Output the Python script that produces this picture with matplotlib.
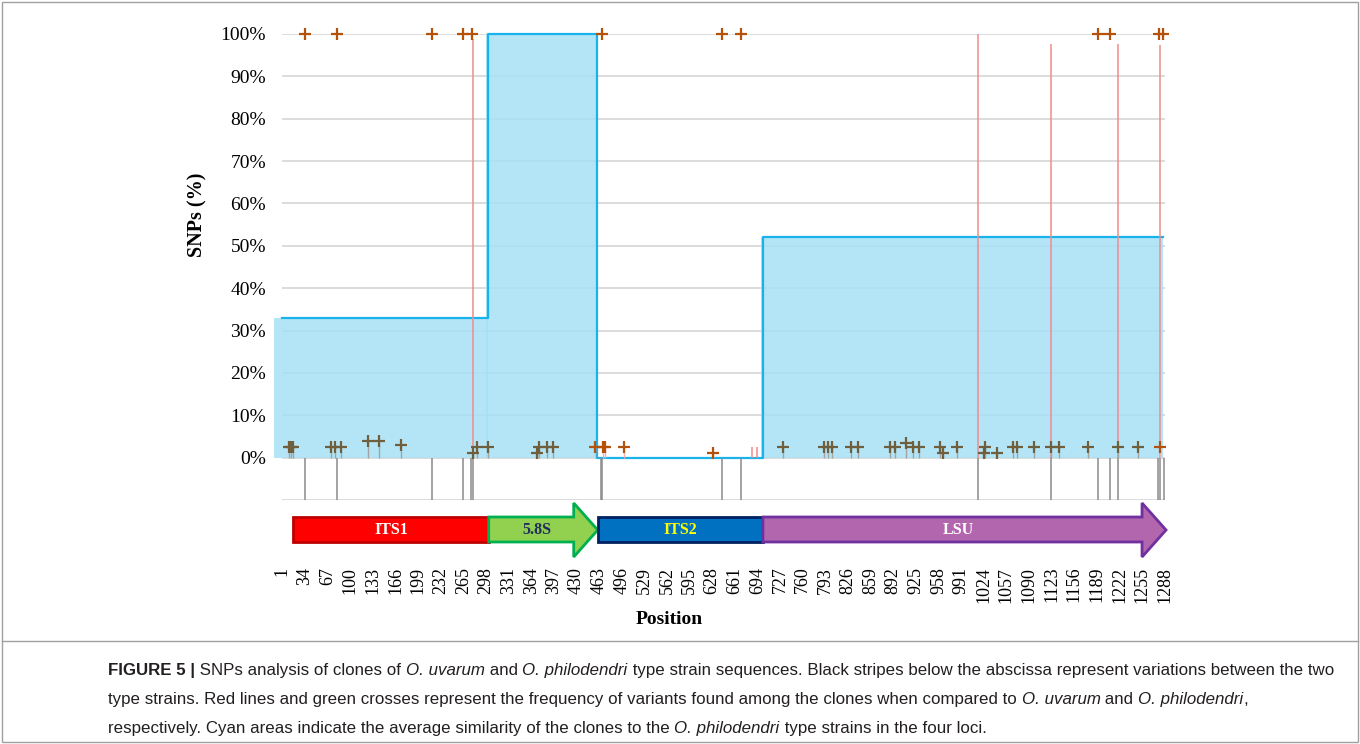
import matplotlib
matplotlib.use('Agg')
import matplotlib.pyplot as plt
from matplotlib.patches import Polygon
from matplotlib import font_manager

# ---- data ----
# x tick labels (positions along the alignment)
tick_pos = [1, 34, 67, 100, 133, 166, 199, 232, 265, 298, 331, 364, 397, 430, 463, 496, 529,
            562, 595, 628, 661, 694, 727, 760, 793, 826, 859, 892, 925, 958, 991, 1024, 1057,
            1090, 1123, 1156, 1189, 1222, 1255, 1288]

# average similarity of the clones to O. philodendri per locus (cyan areas)
region_start = [1, 301, 460, 702]
region_end = [301, 460, 702, 1286]
similarity = [33, 100, 0, 52]

# variations between the two type strains (black stripes)
stripe_pos = [34, 81, 219, 264, 276, 279, 466, 468, 642, 670, 1016, 1122, 1191, 1208,
              1220, 1278, 1281, 1287]

# variants compared to O. uvarum (red lines)
red_pos = [279, 686, 693, 1016, 1122, 1220, 1281]
red_pct = [98.8, 2.4, 2.4, 100, 97.6, 97.6, 97.4]

# variants compared to O. philodendri (crosses)
olive_pos = [10, 13, 16, 72, 78, 87, 126, 142, 174, 279, 285, 301, 372, 375, 387, 396,
             731, 791, 797, 803, 830, 841, 887, 895, 911, 921, 930, 960, 965, 985, 1024,
             1026, 1043, 1067, 1073, 1097, 1122, 1134, 1176, 1220, 1249]
olive_pct = [2.6, 2.6, 2.6, 2.6, 2.6, 2.6, 3.9, 3.9, 3.1, 1.2, 2.6, 2.6, 1.2, 2.6, 2.6, 2.6,
             2.6, 2.6, 2.6, 2.6, 2.6, 2.6, 2.6, 2.6, 3.5, 2.6, 2.6, 2.6, 1.2, 2.6, 1.2,
             2.6, 1.2, 2.6, 2.6, 2.6, 2.6, 2.6, 2.6, 2.6, 2.6]
brown_pos = [34, 81, 219, 264, 277, 467, 642, 670, 1191, 1208, 1280, 1286,
             457, 469, 472, 499, 629, 1281]
brown_pct = [100, 100, 100, 100, 100, 100, 100, 100, 100, 100, 100, 100,
             2.6, 2.6, 2.6, 2.6, 1.2, 2.6]

# loci drawn under the chart
gene_names = ['ITS1', '5.8S', 'ITS2', 'LSU']
gene_start = [17, 302, 462, 702]
gene_end = [302, 461, 702, 1290]
gene_face = ['#ff0000', '#92d050', '#0070c0', '#b166ae']
gene_edge = ['#c00000', '#00b050', '#002060', '#7030a0']
gene_text = ['white', '#1f2d5c', '#ffff00', 'white']
gene_arrow = [False, True, False, True]

SERIF = 'Liberation Serif'
W, H = 1360, 744
X0, X1 = 282, 1165       # plot area in pixels
Y_TOP, Y_BOT = 34, 500

fig = plt.figure(figsize=(W / 100, H / 100), dpi=100)
ax = fig.add_axes([X0 / W, 1 - Y_BOT / H, (X1 - X0) / W, (Y_BOT - Y_TOP) / H])
ax.set_xlim(0.5, 1288.5)
ax.set_ylim(-10, 100)
for s in ax.spines.values():
    s.set_visible(False)

# gridlines, -10% line is the bottom axis line
for g in range(-10, 101, 10):
    ax.axhline(g, color='#d9d9d9', lw=1.3, zorder=0.5)

# cyan similarity areas
for i, (a, b, v) in enumerate(zip(region_start, region_end, similarity)):
    left = a - 12 if i == 0 else a - 3
    ax.fill_between([left, b], [v, v], 0, color='#a6e1f6', alpha=0.85, lw=0,
                    zorder=1, clip_on=False)
step_x, step_y = [0.5], [similarity[0]]
for a, b, v in zip(region_start, region_end, similarity):
    step_x += [a if a > 1 else 0.5, b]
    step_y += [v, v]
ax.plot(step_x[1:], step_y[1:], color='#18b2ec', lw=1.6, zorder=2, clip_on=False)

# black stripes below the abscissa
ax.vlines(stripe_pos, -10, 0, color='#8a8a8a', lw=1.1, zorder=2)

# red lines
ax.vlines(red_pos, 0, red_pct, color='#f08c8c', lw=1.1, zorder=3)

# crosses with their stems
ax.vlines([p for p, v in zip(olive_pos, olive_pct) if v < 10],
          0, [v for v in olive_pct if v < 10], color='#a3a3a3', lw=1.0, zorder=3)
ax.vlines([p for p, v in zip(brown_pos, brown_pct) if v < 10],
          0, [v for v in brown_pct if v < 10], color='#f2b0b0', lw=1.0, zorder=3)
ax.plot(olive_pos, olive_pct, ls='none', marker='+', ms=8, mew=1.6, color='#6f5f3d',
        zorder=4, clip_on=False)
ax.plot(brown_pos, brown_pct, ls='none', marker='+', ms=8, mew=1.6, color='#b4520c',
        zorder=4, clip_on=False)

# axes ticks
yt = list(range(-10, 101, 10))
ax.set_yticks(yt)
ax.set_yticklabels(['' if v < 0 else f'{v}%' for v in yt], fontfamily=SERIF, fontsize=14)
ax.set_xticks(tick_pos)
ax.set_xticklabels([str(t) for t in tick_pos], rotation=90, fontfamily=SERIF, fontsize=13)
ax.tick_params(axis='x', length=0, pad=48)
ax.tick_params(axis='y', length=0, pad=11.5)

fig.text(197 / W, 1 - 215 / H, 'SNPs (%)', rotation=90, ha='center', va='center',
         fontfamily=SERIF, fontweight='bold', fontsize=14.5)
fig.text(669 / W, 1 - 620 / H, 'Position', ha='center', va='center',
         fontfamily=SERIF, fontweight='bold', fontsize=14)

# loci map
gx = fig.add_axes([X0 / W, 1 - 560 / H, (X1 - X0) / W, 60 / H])
gx.set_xlim(0.5, 1288.5)
gx.set_ylim(560, 500)
gx.axis('off')
HEAD = 35
for name, a, b, fc, ec, tc, arr in zip(gene_names, gene_start, gene_end, gene_face,
                                        gene_edge, gene_text, gene_arrow):
    if arr:
        h = b - HEAD
        pts = [(a, 517), (h, 517), (h, 503), (b, 530), (h, 557), (h, 542), (a, 542)]
        cx = (a + h) / 2 + HEAD / 4
    else:
        pts = [(a, 517), (b, 517), (b, 542), (a, 542)]
        cx = (a + b) / 2
    gx.add_patch(Polygon(pts, closed=True, facecolor=fc, edgecolor=ec, lw=2,
                         joinstyle='miter', clip_on=False))
    gx.text(cx, 530, name, ha='center', va='center', color=tc, fontfamily=SERIF,
            fontweight='bold', fontsize=11.5)

# frame and caption
fig.patches.append(plt.Rectangle((2 / W, 2 / H), (W - 4) / W, (H - 4) / H, fill=False,
                                 edgecolor='#a0a0a0', lw=1, transform=fig.transFigure))
fig.add_artist(plt.Line2D([2 / W, (W - 2) / W], [1 - 641 / H, 1 - 641 / H],
                          color='#a0a0a0', lw=1))


def pick_caption_font():
    for fam in ['Liberation Sans Narrow', 'Liberation Sans']:
        try:
            font_manager.findfont(font_manager.FontProperties(family=fam),
                                  fallback_to_default=False)
            return fam
        except Exception:
            pass
    return 'DejaVu Sans'


CAP_FONT = pick_caption_font()
renderer = fig.canvas.get_renderer()


def run_width(s, size, style, weight):
    kw = dict(fontsize=size, fontfamily=CAP_FONT, fontstyle=style, fontweight=weight)
    t1 = fig.text(0, 0, '|' + s + '|', **kw)
    t2 = fig.text(0, 0, '||', **kw)
    w = t1.get_window_extent(renderer).width - t2.get_window_extent(renderer).width
    t1.remove()
    t2.remove()
    return w


caption = [
    [('FIGURE 5 |', 'normal', 'bold'), (' SNPs analysis of clones of ', 'normal', 'normal'),
     ('O. uvarum', 'italic', 'normal'), (' and ', 'normal', 'normal'),
     ('O. philodendri', 'italic', 'normal'),
     (' type strain sequences. Black stripes below the abscissa represent variations between the two',
      'normal', 'normal')],
    [('type strains. Red lines and green crosses represent the frequency of variants found among the clones when compared to ',
      'normal', 'normal'), ('O. uvarum', 'italic', 'normal'), (' and ', 'normal', 'normal'),
     ('O. philodendri', 'italic', 'normal'), (',', 'normal', 'normal')],
    [('respectively. Cyan areas indicate the average similarity of the clones to the ',
      'normal', 'normal'), ('O. philodendri', 'italic', 'normal'),
     (' type strains in the four loci.', 'normal', 'normal')],
]

base = 13
w1 = sum(run_width(s, base, st, wt) for s, st, wt in caption[0])
cap_size = base * (1338 - 108) / w1 * 0.99
baselines = [675, 704, 733]
for line, yb in zip(caption, baselines):
    x = 108
    for s, st, wt in line:
        fig.text(x / W, 1 - yb / H, s, fontsize=cap_size, fontfamily=CAP_FONT,
                 fontstyle=st, fontweight=wt, color='#231f20', va='baseline', ha='left')
        x += run_width(s, cap_size, st, wt)

fig.savefig('out.png', dpi=100)
